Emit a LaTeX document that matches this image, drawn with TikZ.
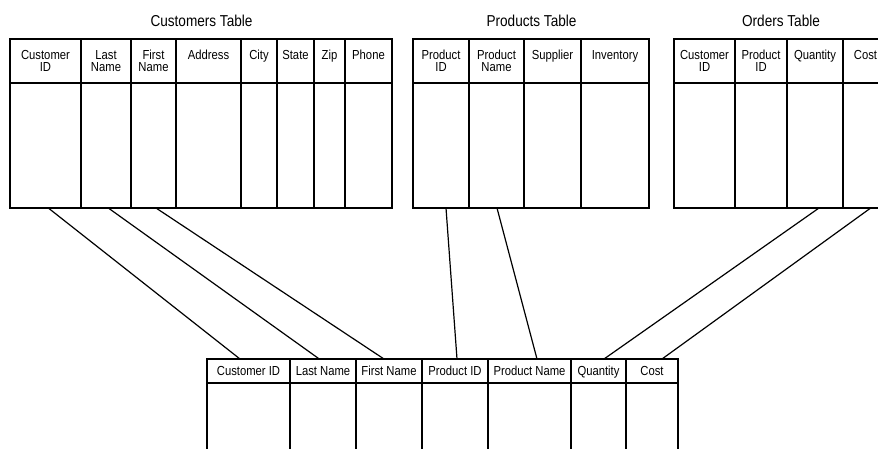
\documentclass[tikz,border=0pt]{standalone}
\usepackage{fontspec}
\setmainfont{Liberation Sans}[FakeStretch=0.86]
\begin{document}
\begin{tikzpicture}[x=1pt,y=-1pt,
  tbl/.style={line width=1.9pt, line cap=rect},
  conn/.style={line width=1.2pt},
  hd/.style={anchor=base, inner sep=0pt, font=\fontsize{13.1}{12}\selectfont},
  ttl/.style={anchor=base, inner sep=0pt, font=\fontsize{15.8}{16}\selectfont}]
\useasboundingbox (0,0) rectangle (878,449);
\clip (0,0) rectangle (878,449);

% titles
\node[ttl] (tcust) at (201.5,26.7) {Customers Table};
\node[ttl] (tprod) at (531.5,26.7) {Products Table};
\node[ttl] (tord) at (781,26.7) {Orders Table};

% Customers table
\draw[tbl] (10,39) rectangle (392,208);
\draw[tbl] (10,83) -- (392,83);
\foreach \x in {81,131,176,241,277,314,345} \draw[tbl] (\x,39) -- (\x,208);
\node[hd] (c1a) at (45.5,59.5) {Customer};
\node[hd] (c1b) at (45.5,71.2) {ID};
\node[hd] (c2a) at (106,59.5) {Last};
\node[hd] (c2b) at (106,71.2) {Name};
\node[hd] (c3a) at (153.5,59.5) {First};
\node[hd] (c3b) at (153.5,71.2) {Name};
\node[hd] (c4) at (208.5,59.5) {Address};
\node[hd] (c5) at (259,59.5) {City};
\node[hd] (c6) at (295.5,59.5) {State};
\node[hd] (c7) at (329.5,59.5) {Zip};
\node[hd] (c8) at (368.5,59.5) {Phone};

% Products table
\draw[tbl] (413,39) rectangle (649,208);
\draw[tbl] (413,83) -- (649,83);
\foreach \x in {469,524,581} \draw[tbl] (\x,39) -- (\x,208);
\node[hd] (p1a) at (441,59.5) {Product};
\node[hd] (p1b) at (441,71.2) {ID};
\node[hd] (p2a) at (496.5,59.5) {Product};
\node[hd] (p2b) at (496.5,71.2) {Name};
\node[hd] (p3) at (552.5,59.5) {Supplier};
\node[hd] (p4) at (615,59.5) {Inventory};

% Orders table
\draw[tbl] (674,39) rectangle (888,208);
\draw[tbl] (674,83) -- (888,83);
\foreach \x in {735,787,843} \draw[tbl] (\x,39) -- (\x,208);
\node[hd] (o1a) at (704.5,59.5) {Customer};
\node[hd] (o1b) at (704.5,71.2) {ID};
\node[hd] (o2a) at (761,59.5) {Product};
\node[hd] (o2b) at (761,71.2) {ID};
\node[hd] (o3) at (815,59.5) {Quantity};
\node[hd] (o4) at (865.5,59.5) {Cost};

% Result table
\draw[tbl] (207,452) -- (207,359) -- (678,359) -- (678,452);
\draw[tbl] (207,383) -- (678,383);
\foreach \x in {290,356,422,488,571,626} \draw[tbl] (\x,359) -- (\x,452);
\node[hd] (r1) at (248.5,375) {Customer ID};
\node[hd] (r2) at (323,375) {Last Name};
\node[hd] (r3) at (389,375) {First Name};
\node[hd] (r4) at (455,375) {Product ID};
\node[hd] (r5) at (529.5,375) {Product Name};
\node[hd] (r6) at (598.5,375) {Quantity};
\node[hd] (r7) at (652,375) {Cost};

% connector end points
\coordinate (sCid) at (48.3,208);
\coordinate (sCln) at (108.3,208);
\coordinate (sCfn) at (156,208);
\coordinate (sPid) at (446,208);
\coordinate (sPnm) at (497,208);
\coordinate (sOqt) at (819,208);
\coordinate (sOco) at (870.7,208);
\coordinate (eCid) at (240,359);
\coordinate (eCln) at (319.3,359);
\coordinate (eCfn) at (384,359);
\coordinate (ePid) at (457,359);
\coordinate (ePnm) at (537,359);
\coordinate (eOqt) at (604,359);
\coordinate (eOco) at (662,359);

\draw[conn] (sCid) -- (eCid);
\draw[conn] (sCln) -- (eCln);
\draw[conn] (sCfn) -- (eCfn);
\draw[conn] (sPid) -- (ePid);
\draw[conn] (sPnm) -- (ePnm);
\draw[conn] (sOqt) -- (eOqt);
\draw[conn] (sOco) -- (eOco);
\end{tikzpicture}
\end{document}
